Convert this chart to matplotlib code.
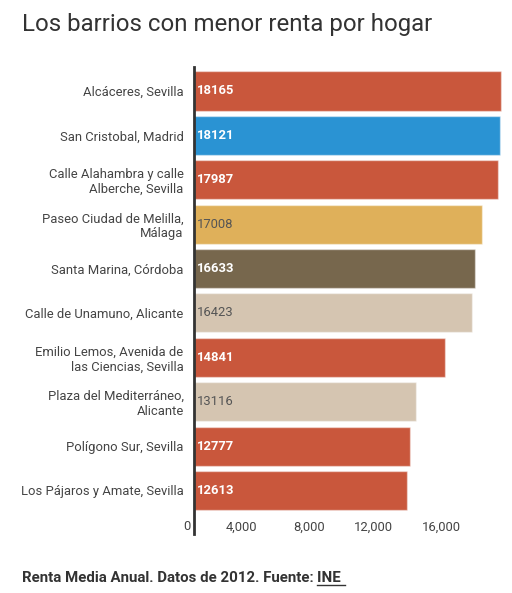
import matplotlib.pyplot as plt
from matplotlib.lines import Line2D
import matplotlib.transforms as mtransforms

plt.rcParams['font.family'] = ['Roboto', 'DejaVu Sans']

barrios = ['Alcáceres, Sevilla', 'San Cristobal, Madrid',
           'Calle Alahambra y calle\nAlberche, Sevilla',
           'Paseo Ciudad de Melilla,\nMálaga', 'Santa Marina, Córdoba',
           'Calle de Unamuno, Alicante',
           'Emilio Lemos, Avenida de\nlas Ciencias, Sevilla',
           'Plaza del Mediterráneo,\nAlicante', 'Polígono Sur, Sevilla',
           'Los Pájaros y Amate, Sevilla']
renta = [18165, 18121, 17987, 17008, 16633, 16423, 14841, 13116, 12777, 12613]
colores = ['#C9573C', '#2A93D3', '#C9573C', '#DFB05A', '#77674D',
           '#D5C5B1', '#C9573C', '#D5C5B1', '#C9573C', '#C9573C']
texto_color = ['white', 'white', 'white', '#555555', 'white',
               '#555555', 'white', '#555555', 'white', 'white']
ticks = [0, 4000, 8000, 12000, 16000]
tick_labels = ['0', '4,000', '8,000', '12,000', '16,000']

fig = plt.figure(figsize=(5.12, 5.93), dpi=100)
ax = fig.add_axes([194 / 512, 1 - 534 / 593, 308 / 512, (534 - 67) / 593])

y = list(range(len(barrios)))
ax.barh(y, renta, height=0.88, color=colores, edgecolor=(1, 1, 1, 0.45),
        linewidth=1)
ax.set_ylim(len(barrios) - 1 + 0.98, -0.54)
ax.set_xlim(0, 18220)

ax.set_yticks(y)
ax.set_yticklabels(barrios, fontsize=9.4, color='#444444', linespacing=1.15)
ax.tick_params(axis='y', length=0, pad=7.5)

for i, v in enumerate(renta):
    ax.text(180, i, str(v), va='center', ha='left', fontsize=9.4,
            color=texto_color[i],
            fontweight='bold' if texto_color[i] == 'white' else 'normal')

ax.set_xticks([])
off = mtransforms.ScaledTranslation(-4 / 100, 0, fig.dpi_scale_trans)
trans = mtransforms.blended_transform_factory(ax.transData, ax.transAxes) + off
for t, lab in zip(ticks, tick_labels):
    ax.text(t, 7 / 467, lab, transform=trans, ha='right', va='center',
            fontsize=9.4, color='#444444')

for s in ['top', 'right', 'bottom']:
    ax.spines[s].set_visible(False)
ax.spines['left'].set_color('#333333')
ax.spines['left'].set_linewidth(2)

fig.text(22 / 512, 1 - 24 / 593, 'Los barrios con menor renta por hogar',
         fontsize=17.3, color='#333333', va='center', ha='left')

pie = fig.text(22 / 512, 1 - 582 / 593,
               'Renta Media Anual. Datos de 2012. Fuente: ',
               fontsize=10.8, fontweight='bold', color='#333333',
               va='baseline', ha='left')
fig.canvas.draw()
bb = pie.get_window_extent()
ine = fig.text(bb.x1 / 512, 1 - 582 / 593, 'INE ', fontsize=10.8,
               fontweight='bold', color='#333333', va='baseline', ha='left')
fig.canvas.draw()
bb2 = ine.get_window_extent()
fig.add_artist(Line2D([bb2.x0 / 512, bb2.x1 / 512],
                      [1 - 585 / 593, 1 - 585 / 593],
                      color='#333333', linewidth=1))

fig.savefig('out.png', dpi=100)
